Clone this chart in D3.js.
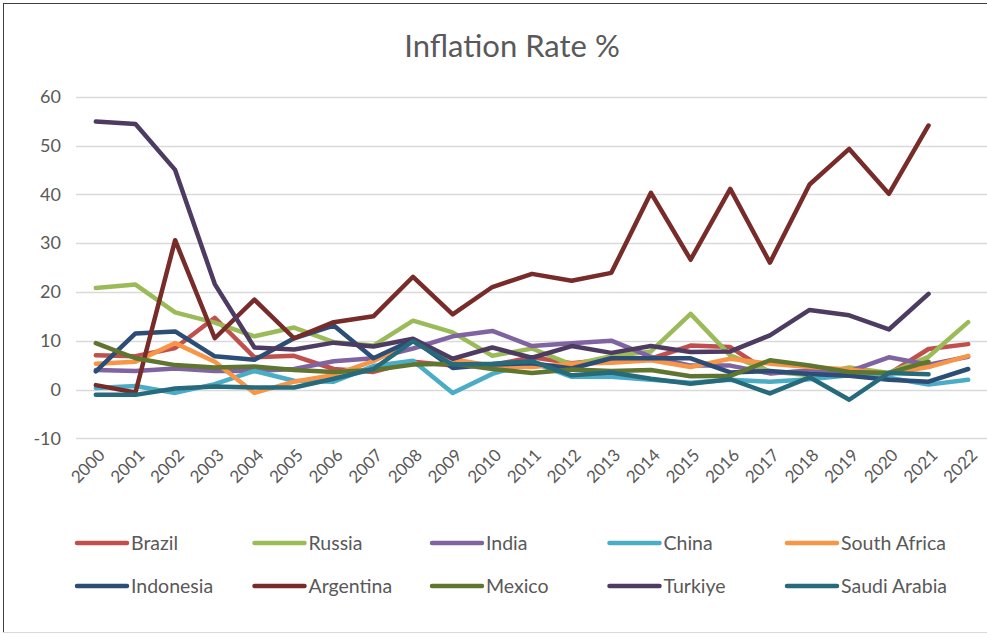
<!DOCTYPE html>
<html>
<head>
<meta charset="utf-8">
<script src="https://cdn.jsdelivr.net/npm/d3@7"></script>
<style>
  body { margin: 0; background: #fff; }
  svg text { font-family: "Liberation Sans Narrow", Lato, sans-serif; fill: #595959; }
</style>
</head>
<body>
<svg width="987" height="634"></svg>
<script>
var years = ["2000","2001","2002","2003","2004","2005","2006","2007","2008","2009","2010",
             "2011","2012","2013","2014","2015","2016","2017","2018","2019","2020","2021","2022"];
var yTicks = [-10, 0, 10, 20, 30, 40, 50, 60];

var brazil      = [7.0, 6.8, 8.5, 14.7, 6.6, 6.9, 4.2, 3.6, 5.7, 4.9, 5.0, 6.6, 5.4, 6.2, 6.3, 9.0, 8.7, 3.4, 3.7, 3.7, 3.2, 8.3, 9.3];
var russia      = [20.8, 21.5, 15.8, 13.7, 10.9, 12.7, 9.7, 9.0, 14.1, 11.7, 6.9, 8.4, 5.1, 6.8, 7.8, 15.5, 7.0, 3.7, 2.9, 4.5, 3.4, 6.7, 13.8];
var india       = [4.0, 3.8, 4.3, 3.8, 3.8, 4.2, 5.8, 6.4, 8.4, 10.9, 12.0, 8.9, 9.5, 10.0, 6.7, 4.9, 4.9, 3.3, 3.9, 3.7, 6.6, 5.1, 6.7];
var china       = [0.3, 0.7, -0.7, 1.1, 3.8, 1.8, 1.6, 4.8, 5.9, -0.7, 3.2, 5.6, 2.6, 2.6, 2.0, 1.4, 2.0, 1.6, 2.1, 2.9, 2.4, 1.0, 2.0];
var southAfrica = [5.3, 5.7, 9.5, 5.7, -0.7, 1.6, 3.0, 5.8, 10.0, 6.2, 4.8, 4.6, 5.3, 5.5, 6.0, 4.6, 6.3, 5.3, 4.6, 4.1, 3.2, 4.6, 6.9];
var indonesia   = [3.7, 11.5, 11.9, 6.8, 6.1, 10.5, 13.1, 6.4, 10.2, 4.4, 5.1, 5.4, 4.3, 6.4, 6.4, 6.4, 3.5, 3.8, 3.2, 2.8, 2.0, 1.6, 4.2];
var argentina   = [0.9, -0.6, 30.6, 10.5, 18.4, 10.5, 13.8, 15.0, 23.1, 15.4, 21.0, 23.7, 22.3, 23.9, 40.3, 26.6, 41.1, 26.0, 42.0, 49.3, 40.1, 54.1];
var mexico      = [9.5, 6.4, 5.0, 4.5, 4.7, 4.0, 3.6, 4.0, 5.1, 5.3, 4.2, 3.4, 4.1, 3.8, 4.0, 2.7, 2.8, 6.0, 4.9, 3.6, 3.4, 5.7];
var turkiye     = [54.9, 54.4, 45.0, 21.6, 8.6, 8.2, 9.6, 8.8, 10.4, 6.3, 8.6, 6.5, 8.9, 7.5, 8.9, 7.7, 7.8, 11.1, 16.3, 15.2, 12.3, 19.6];
var saudiArabia = [-1.1, -1.1, 0.2, 0.6, 0.4, 0.4, 2.2, 4.2, 9.9, 5.1, 5.3, 5.8, 2.9, 3.5, 2.2, 1.2, 2.1, -0.8, 2.5, -2.1, 3.4, 3.1];

var names  = ["Brazil","Russia","India","China","South Africa","Indonesia","Argentina","Mexico","Turkiye","Saudi Arabia"];
var values = [brazil, russia, india, china, southAfrica, indonesia, argentina, mexico, turkiye, saudiArabia];
var colors = ["#C0504D","#9BBB59","#8064A2","#4BACC6","#F79646","#2C4D75","#772C2A","#5F7530","#4D3B62","#276A7C"];

var series = names.map(function(n, i) {
    return {name: n, color: colors[i], points: values[i].map(function(v, j) { return {year: years[j], value: v}; })};
});

var svg = d3.select("svg");

// chart frame
svg.append("line").attr("x1", 3.5).attr("x2", 3.5).attr("y1", 3).attr("y2", 633).attr("stroke", "#404040");
svg.append("line").attr("x1", 3).attr("x2", 987).attr("y1", 3.5).attr("y2", 3.5).attr("stroke", "#404040");
svg.append("line").attr("x1", 3).attr("x2", 987).attr("y1", 632.5).attr("y2", 632.5).attr("stroke", "#D9D9D9");

var x = d3.scalePoint().domain(years).range([76, 988]).padding(0.5);
var y = d3.scaleLinear().domain([-10, 60]).range([438.3, 96.7]);

svg.append("text")
    .attr("x", 512).attr("y", 57)
    .attr("text-anchor", "middle")
    .style("font-size", "31px")
    .text("Inflation Rate %");

// gridlines + y labels
var grid = svg.append("g");
grid.selectAll("line").data(yTicks).enter().append("line")
    .attr("x1", 76).attr("x2", 988)
    .attr("y1", function(d) { return Math.round(y(d)) + 0.5; })
    .attr("y2", function(d) { return Math.round(y(d)) + 0.5; })
    .attr("stroke", "#D9D9D9").attr("stroke-width", 1.5);
grid.selectAll("text").data(yTicks).enter().append("text")
    .attr("x", 61)
    .attr("y", function(d) { return y(d); })
    .attr("dy", "0.35em")
    .attr("text-anchor", "end")
    .style("font-size", "18px")
    .text(function(d) { return d; });

// x labels, rotated
svg.append("g").selectAll("text").data(years).enter().append("text")
    .attr("transform", function(d) { return "translate(" + (x(d) + 6) + ",452) rotate(-45)"; })
    .attr("text-anchor", "end")
    .attr("dy", "0.35em")
    .style("font-size", "17px")
    .text(function(d) { return d; });

var line = d3.line()
    .x(function(d) { return x(d.year); })
    .y(function(d) { return y(d.value); });

svg.append("g").selectAll("path").data(series).enter().append("path")
    .attr("d", function(d) { return line(d.points); })
    .attr("fill", "none")
    .attr("stroke", function(d) { return d.color; })
    .attr("stroke-width", 4.5)
    .attr("stroke-linejoin", "round")
    .attr("stroke-linecap", "round");

// legend, 2 rows of 5
var legend = svg.append("g").selectAll("g").data(series).enter().append("g")
    .attr("transform", function(d, i) { return "translate(" + (77 + (i % 5) * 177.5) + "," + (543 + Math.floor(i / 5) * 43) + ")"; });
legend.append("line")
    .attr("x1", 0).attr("x2", 50)
    .attr("stroke", function(d) { return d.color; })
    .attr("stroke-width", 4.5)
    .attr("stroke-linecap", "round");
legend.append("text")
    .attr("x", 54)
    .attr("dy", "0.35em")
    .style("font-size", "19.5px")
    .text(function(d) { return d.name; });
</script>
</body>
</html>
